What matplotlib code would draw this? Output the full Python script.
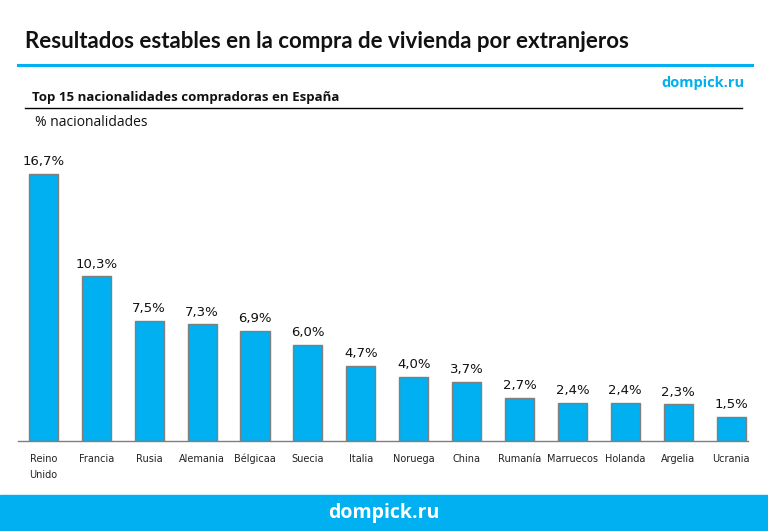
import matplotlib.pyplot as plt
import numpy as np

paises = ["Reino\nUnido", "Francia", "Rusia", "Alemania", "Bélgicaa", "Suecia",
          "Italia", "Noruega", "China", "Rumanía", "Marruecos", "Holanda",
          "Argelia", "Ucrania"]
porcentajes = [16.7, 10.3, 7.5, 7.3, 6.9, 6.0, 4.7, 4.0, 3.7, 2.7, 2.4, 2.4, 2.3, 1.5]

azul = "#00B0F0"
W, H = 768, 531

fig = plt.figure(figsize=(W / 100, H / 100), dpi=100)
fig.patch.set_facecolor("white")

# cabecera
fig.text(25 / W, 1 - 42 / H, "Resultados estables en la compra de vivienda por extranjeros",
         fontsize=16, fontweight="bold", family="Lato", va="center", ha="left", color="#111111")
fig.add_artist(plt.Line2D([18 / W, 752 / W], [1 - 65 / H, 1 - 65 / H], color=azul, lw=2.2))
fig.text(745 / W, 1 - 83 / H, "dompick.ru", fontsize=10.5, fontweight="bold", family="Open Sans",
         color=azul, ha="right", va="center")
fig.text(32 / W, 1 - 97 / H, "Top 15 nacionalidades compradoras en España", fontsize=9.5,
         fontweight="bold", family="Open Sans", ha="left", va="center", color="#111111")
fig.add_artist(plt.Line2D([25 / W, 742 / W], [1 - 108 / H, 1 - 108 / H], color="black", lw=1))
fig.text(35 / W, 1 - 123 / H, "% nacionalidades", fontsize=10, family="Open Sans",
         ha="left", va="center", color="#111111")

# pie azul
fig.add_artist(plt.Rectangle((0, 0), 1, 36 / H, transform=fig.transFigure,
                             color=azul, zorder=0))
fig.text(0.5, 18 / H, "dompick.ru", fontsize=14, fontweight="bold", family="Open Sans",
         color="white", ha="center", va="center")

ax = fig.add_axes([18 / W, (H - 441) / H, (748 - 18) / W, (441 - 150) / H])
x = np.arange(len(paises))
bars = ax.bar(x, porcentajes, width=0.55, color=azul, edgecolor="#7F7F7F", linewidth=1)
for b, v in zip(bars, porcentajes):
    ax.text(b.get_x() + b.get_width() / 2, v + 0.35, f"{v:.1f}%".replace(".", ","),
            ha="center", va="bottom", fontsize=9.5, family="DejaVu Sans", color="#111111")

ax.set_xlim(-0.48, 13.32)
ax.set_ylim(0, 18.2)
ax.set_xticks(x)
ax.set_xticklabels(paises, fontsize=7, family="DejaVu Sans", color="#222222",
                   linespacing=1.8, va="top")
ax.tick_params(axis="x", length=0, pad=9)
ax.set_yticks([])
for s in ["top", "right", "left"]:
    ax.spines[s].set_visible(False)
ax.spines["bottom"].set_color("#7F7F7F")
ax.spines["bottom"].set_linewidth(1)

fig.savefig("out.png", dpi=100)
